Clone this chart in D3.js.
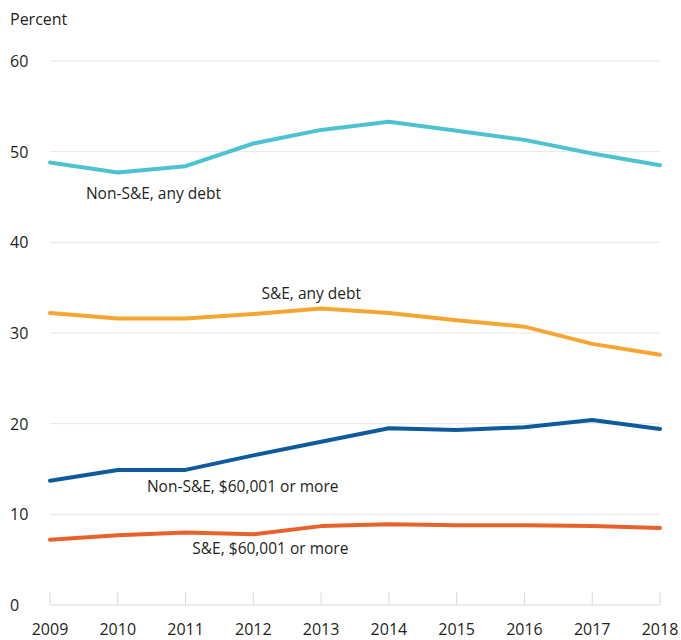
<!DOCTYPE html>
<html>
<head>
<meta charset="utf-8">
<script src="https://cdn.jsdelivr.net/npm/d3@7"></script>
<style>
  body { margin: 0; background: #fff; }
  svg text { font-family: "Open Sans", "Noto Sans", sans-serif; fill: #231f20; }
</style>
</head>
<body>
<div id="chart"></div>
<script>
const years = [2009, 2010, 2011, 2012, 2013, 2014, 2015, 2016, 2017, 2018];
const yTicks = [0, 10, 20, 30, 40, 50, 60];

const nonSeAnyDebt = [48.8, 47.7, 48.4, 50.9, 52.4, 53.3, 52.3, 51.3, 49.8, 48.5];
const seAnyDebt = [32.2, 31.6, 31.6, 32.1, 32.7, 32.2, 31.4, 30.7, 28.8, 27.6];
const nonSe60k = [13.7, 14.9, 14.9, 16.5, 18.0, 19.5, 19.3, 19.6, 20.4, 19.4];
const se60k = [7.2, 7.7, 8.0, 7.8, 8.7, 8.9, 8.8, 8.8, 8.7, 8.5];

const seriesNames = ['Non-S&E, any debt', 'S&E, any debt', 'Non-S&E, $60,001 or more', 'S&E, $60,001 or more'];
const seriesColors = ['#4dc3cf', '#f5a532', '#0f5a9c', '#e6622a'];
// label anchor: [year, value] where the label text starts
const labelPos = [[2009.53, 44.8], [2012.12, 33.8], [2010.43, 12.5], [2011.1, 5.6]];

const series = [nonSeAnyDebt, seAnyDebt, nonSe60k, se60k].map((vals, i) => ({
  name: seriesNames[i],
  color: seriesColors[i],
  label: labelPos[i],
  values: vals.map((v, j) => ({ year: years[j], value: v }))
}));

const width = 681, height = 640;
const margin = { top: 61, right: 21, bottom: 35, left: 50 };

const svg = d3.select('#chart')
  .append('svg')
  .attr('width', width)
  .attr('height', height);

const x = d3.scaleLinear()
  .domain([2009, 2018])
  .range([margin.left, width - margin.right]);

const y = d3.scaleLinear()
  .domain([0, 60])
  .range([height - margin.bottom, margin.top]);

// grid lines
svg.append('g')
  .selectAll('line')
  .data(yTicks.filter(d => d > 0))
  .enter()
  .append('line')
  .attr('x1', x(2009))
  .attr('x2', x(2018))
  .attr('y1', d => y(d))
  .attr('y2', d => y(d))
  .attr('stroke', '#e6e6e6')
  .attr('stroke-width', 1);

// baseline with upward ticks
svg.append('line')
  .attr('x1', x(2009))
  .attr('x2', x(2018))
  .attr('y1', y(0))
  .attr('y2', y(0))
  .attr('stroke', '#d9d9d9')
  .attr('stroke-width', 1);

svg.append('g')
  .selectAll('line')
  .data(years)
  .enter()
  .append('line')
  .attr('x1', d => x(d))
  .attr('x2', d => x(d))
  .attr('y1', y(0))
  .attr('y2', y(0) - 13)
  .attr('stroke', '#d9d9d9')
  .attr('stroke-width', 1);

// y tick labels
svg.append('g')
  .selectAll('text')
  .data(yTicks)
  .enter()
  .append('text')
  .attr('x', 10)
  .attr('y', d => y(d) + 6)
  .attr('font-size', 16)
  .text(d => d);

svg.append('text')
  .attr('x', 10)
  .attr('y', 25)
  .attr('font-size', 16)
  .text('Percent');

// x tick labels
svg.append('g')
  .selectAll('text')
  .data(years)
  .enter()
  .append('text')
  .attr('x', d => x(d))
  .attr('y', height - 5)
  .attr('text-anchor', 'middle')
  .attr('font-size', 16)
  .text(d => d);

const line = d3.line()
  .x(d => x(d.year))
  .y(d => y(d.value));

svg.append('g')
  .selectAll('path')
  .data(series)
  .enter()
  .append('path')
  .attr('d', d => line(d.values))
  .attr('fill', 'none')
  .attr('stroke', d => d.color)
  .attr('stroke-width', 4)
  .attr('stroke-linejoin', 'round')
  .attr('stroke-linecap', 'round');

svg.append('g')
  .selectAll('text')
  .data(series)
  .enter()
  .append('text')
  .attr('x', d => x(d.label[0]))
  .attr('y', d => y(d.label[1]))
  .attr('font-size', 15.5)
  .text(d => d.name);
</script>
</body>
</html>
